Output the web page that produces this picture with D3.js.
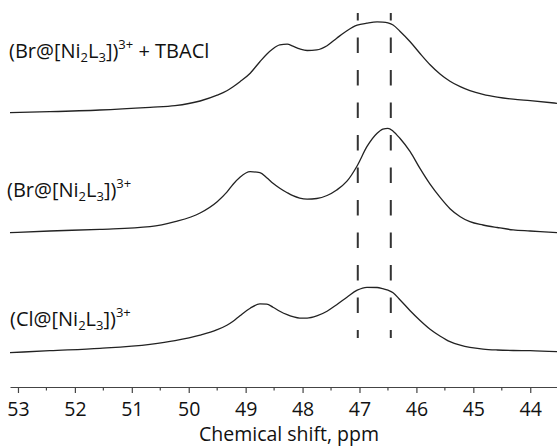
<!DOCTYPE html>
<html>
<head>
<meta charset="utf-8">
<script src="https://cdn.jsdelivr.net/npm/d3@7.9.0/dist/d3.min.js"></script>
<style>
  html, body { margin: 0; padding: 0; background: #fff; }
  svg { display: block; font-family: "Open Sans", "Noto Sans", sans-serif; }
</style>
</head>
<body>
<svg id="chart" width="557" height="446"></svg>
<script>
// chemical shift (ppm)
const ppm = [53.14, 52.44, 51.56, 50.68, 50.24, 49.80, 49.50, 49.33, 49.22, 49.10, 48.92,
  48.75, 48.63, 48.52, 48.40, 48.27, 48.17, 48.05, 47.92, 47.75, 47.57, 47.40, 47.22, 47.04,
  46.87, 46.69, 46.59, 46.50, 46.41, 46.29, 46.11, 45.94, 45.76, 45.58, 45.41, 45.23, 45.06,
  44.83, 44.58, 44.30, 44.00, 43.53];

// intensities (arbitrary units, baseline-corrected) for each spectrum
const brTbacl = [0, 1, 2.7, 5.4, 7, 11.7, 17.5, 22, 26, 31, 39.5,
  51, 58.5, 64, 67.8, 68.5, 66.5, 63.8, 62.2, 62.8, 67, 74.5, 82, 87.5,
  89.5, 90.8, 90.6, 89.8, 87.7, 81.5, 71, 59.5, 48, 38.5, 31.5, 26, 22,
  18.3, 15.6, 13.5, 12, 9.4];
const brOnly = [0, 1.7, 3.4, 6, 11, 19.7, 31, 40.5, 48.5, 55.5, 61,
  60, 55, 49.5, 44.5, 40, 37, 34.6, 33.6, 34.2, 37.2, 42.7, 51.5, 67,
  86, 99.5, 103.6, 104.4, 101.5, 94.4, 81, 64.5, 48.5, 35, 24, 16, 11,
  7.7, 5.2, 2.8, 1.7, 0];
const clOnly = [0, 2, 4.4, 8.4, 12, 17.5, 23, 27.5, 31.5, 37, 44.5,
  48.8, 48.5, 45.5, 41.5, 38, 36, 34.6, 34.6, 36.8, 41.5, 48, 55.5, 62.5,
  65.4, 65.2, 64, 62.5, 60, 53, 42, 32.5, 23.5, 16.5, 11, 7.5, 5.3,
  3.6, 2.7, 2.2, 2, 1];

const spectra = [
  { name: 'tbacl', values: brTbacl, offset: 240 },
  { name: 'br', values: brOnly, offset: 120 },
  { name: 'cl', values: clOnly, offset: 0 }
];

// reference lines (ppm) and axis ticks
const markerPpm = [47.03, 46.45];
const majorTicks = [53, 52, 51, 50, 49, 48, 47, 46, 45, 44];
const minorTicks = [53.5, 52.5, 51.5, 50.5, 49.5, 48.5, 47.5, 46.5, 45.5, 44.5, 43.5];

const svg = d3.select('#chart');

const xScale = d3.scaleLinear()
  .domain([53.14, 43.53])
  .range([10, 557]);

const yScale = d3.scaleLinear()
  .domain([0, 360])
  .range([352.7, -7.3]);

const axisY = 387;

// dashed reference lines
svg.append('g')
  .selectAll('line')
  .data(markerPpm)
  .join('line')
  .attr('x1', d => xScale(d))
  .attr('x2', d => xScale(d))
  .attr('y1', yScale(339.7))
  .attr('y2', yScale(14.7))
  .attr('stroke', '#333')
  .attr('stroke-width', 2)
  .attr('stroke-dasharray', '15.5,17')
  .attr('stroke-dashoffset', 8);

// spectra
const line = d3.line()
  .x((d, i) => xScale(ppm[i]))
  .curve(d3.curveMonotoneX);

svg.append('g')
  .selectAll('path')
  .data(spectra)
  .join('path')
  .attr('fill', 'none')
  .attr('stroke', '#222')
  .attr('stroke-width', 1.3)
  .attr('d', s => line.y(v => yScale(v + s.offset))(s.values));

// x axis
const xAxis = svg.append('g')
  .attr('transform', `translate(0, ${axisY})`)
  .call(d3.axisBottom(xScale)
    .tickValues(majorTicks)
    .tickSize(6)
    .tickSizeOuter(0)
    .tickFormat(d3.format('d')));

xAxis.select('.domain').attr('stroke', '#444').attr('stroke-width', 1.2);
xAxis.selectAll('.tick line').attr('stroke', '#444').attr('stroke-width', 1.2);
xAxis.selectAll('.tick text')
  .attr('y', 29)
  .attr('dy', 0)
  .attr('fill', '#111')
  .style('font-family', '"Open Sans", sans-serif')
  .style('font-size', '19.5px');

xAxis.append('g')
  .selectAll('line')
  .data(minorTicks)
  .join('line')
  .attr('x1', d => xScale(d))
  .attr('x2', d => xScale(d))
  .attr('y1', 0)
  .attr('y2', 3.5)
  .attr('stroke', '#444')
  .attr('stroke-width', 1.2);

svg.append('text')
  .attr('x', 289)
  .attr('y', 440.5)
  .attr('text-anchor', 'middle')
  .attr('fill', '#111')
  .style('font-size', '19.5px')
  .text('Chemical shift, ppm');

// spectrum labels with sub/superscripts
const labels = [
  { x: 9, y: 57.5, parts: [['(Br@[Ni'], ['2', 'sub'], ['L'], ['3', 'sub'], ['])'], ['3+', 'sup'], [' + TBACl']] },
  { x: 7, y: 196.5, parts: [['(Br@[Ni'], ['2', 'sub'], ['L'], ['3', 'sub'], ['])'], ['3+', 'sup']] },
  { x: 10, y: 326, parts: [['(Cl@[Ni'], ['2', 'sub'], ['L'], ['3', 'sub'], ['])'], ['3+', 'sup']] }
];

labels.forEach(lab => {
  const t = svg.append('text')
    .attr('x', lab.x)
    .attr('y', lab.y)
    .attr('fill', '#111')
    .style('font-size', '20px');
  lab.parts.forEach(([txt, kind]) => {
    t.append('tspan')
      .attr('y', kind === 'sub' ? lab.y + 4 : kind === 'sup' ? lab.y - 9 : lab.y)
      .style('font-size', kind ? '13px' : '20px')
      .text(txt);
  });
});
</script>
</body>
</html>
